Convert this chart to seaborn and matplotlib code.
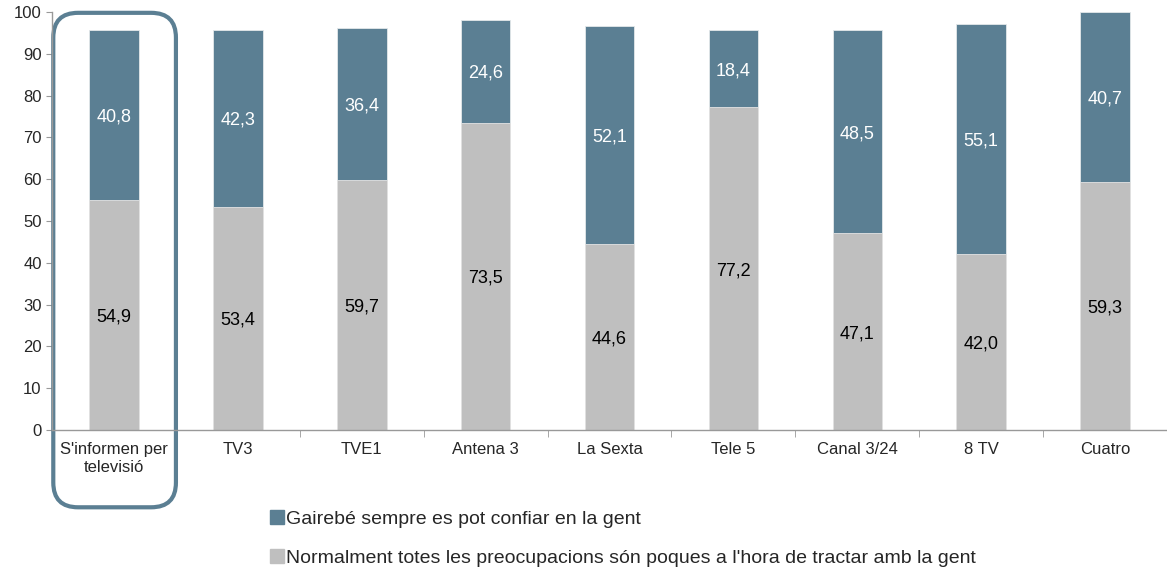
import numpy as np
import pandas as pd
import seaborn as sns
import matplotlib.pyplot as plt
from matplotlib.patches import FancyBboxPatch, Patch

# dades
categories = ["S'informen per\ntelevisió", "TV3", "TVE1", "Antena 3", "La Sexta",
              "Tele 5", "Canal 3/24", "8 TV", "Cuatro"]
confiar = [40.8, 42.3, 36.4, 24.6, 52.1, 18.4, 48.5, 55.1, 40.7]
preocupacions = [54.9, 53.4, 59.7, 73.5, 44.6, 77.2, 47.1, 42.0, 59.3]
serie_confiar = "Gairebé sempre es pot confiar en la gent"
serie_preoc = "Normalment totes les preocupacions són poques a l'hora de tractar amb la gent"

blau = "#5B7F93"
gris = "#BFBFBF"

sns.set_style("white")
plt.rcParams['font.family'] = ['Liberation Sans', 'DejaVu Sans']

df = pd.DataFrame({"cat": categories, "confiar": confiar, "preoc": preocupacions})
df["total"] = df["confiar"] + df["preoc"]

fig = plt.figure(figsize=(11.67, 5.71), dpi=100)
ax = fig.add_axes([0.0446, 0.247, 0.9554, 0.732])

# barres apilades: total en blau, part inferior en gris a sobre
sns.barplot(data=df, x="cat", y="total", color=blau, width=0.4, saturation=1,
            edgecolor="#E4E8EA", linewidth=0.6, ax=ax)
sns.barplot(data=df, x="cat", y="preoc", color=gris, width=0.4, saturation=1,
            edgecolor="#E4E4E4", linewidth=0.6, ax=ax)

for i, row in df.iterrows():
    ax.text(i, row["preoc"] / 2 - 0.5, f"{row['preoc']:.1f}".replace(".", ","),
            ha="center", va="center", fontsize=13, color="black")
    ax.text(i, row["preoc"] + row["confiar"] / 2 - 0.5, f"{row['confiar']:.1f}".replace(".", ","),
            ha="center", va="center", fontsize=13, color="white")

ax.set_ylim(0, 100)
ax.set_xlim(-0.5, len(categories) - 0.5)
ax.set_yticks(np.arange(0, 101, 10))
ax.set_xlabel("")
ax.set_ylabel("")
ax.tick_params(axis="y", labelsize=12, length=4, color="#999999", direction="out", left=True)
ax.tick_params(axis="x", labelsize=12, length=0, pad=9)
for lab in ax.get_xticklabels():
    lab.set_linespacing(1.25)
ax.set_xticks(np.arange(-0.5, len(categories), 1), minor=True)
ax.tick_params(axis="x", which="minor", length=5, color="#999999", direction="out", bottom=True)
for s in ["top", "right"]:
    ax.spines[s].set_visible(False)
for s in ["left", "bottom"]:
    ax.spines[s].set_color("#999999")
    ax.spines[s].set_linewidth(1)

# marc arrodonit al voltant de la primera categoria
px_x = ax.get_position().width * fig.get_figwidth() * fig.dpi / len(categories)
px_y = ax.get_position().height * fig.get_figheight() * fig.dpi / 100
aspect = px_x / px_y
marc = FancyBboxPatch((-0.49, -18.5), 0.99, 118.3,
                      boxstyle="round,pad=0,rounding_size=0.2",
                      mutation_aspect=aspect,
                      transform=ax.transData, clip_on=False,
                      fill=False, edgecolor=blau, linewidth=3)
ax.add_patch(marc)

handles = [Patch(color=blau, label=serie_confiar), Patch(color=gris, label=serie_preoc)]
fig.legend(handles=handles, loc="upper left", bbox_to_anchor=(0.2314, 0.107),
           frameon=False, fontsize=14, handlelength=0.7, handleheight=0.7,
           handletextpad=0.12, labelspacing=1.1, borderaxespad=0, borderpad=0)

fig.savefig("out.png", dpi=100)
